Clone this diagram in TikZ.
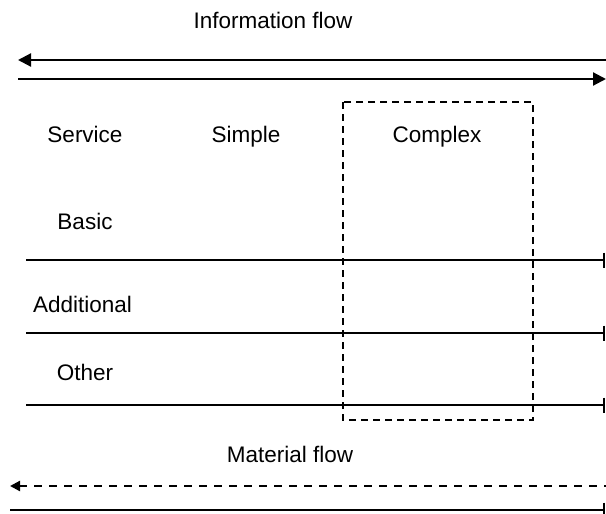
\documentclass[tikz,border=0pt]{standalone}
\usepackage{fontspec}
\setmainfont{Liberation Sans}
\usepackage{tikz}
\usetikzlibrary{arrows.meta}

\tikzset{
    txt/.style={anchor=base, inner sep=0pt, font=\fontsize{11.25}{13}\selectfont},
    flow/.style={line width=1.1pt},
    level/.style={line width=1.1pt, -{Bar[width=7.5pt,line width=1.1pt]}},
    head/.tip={Triangle[length=6.5pt,width=6.5pt]}
}

\begin{document}
\begin{tikzpicture}[x=0.5pt,y=-0.5pt]
        \useasboundingbox (0,0) rectangle (606,514);
        % Information flow
        \node[txt] (info) at (273,28) {Information flow};
        \coordinate (infoAL) at (18,60);
        \coordinate (infoAR) at (606,60);
        \coordinate (infoBL) at (18,79);
        \coordinate (infoBR) at (606,79);
        \draw[flow,head-] (infoAL) -- (infoAR);
        \draw[flow,-head] (infoBL) -- (infoBR);
        % Headings
        \node[txt] (service) at (85,142) {Service};
        \node[txt] (simple) at (246,142) {Simple};
        \node[txt] (complex) at (437,142) {Complex};
        % Service levels
        \node[txt] (basic) at (85,229) {Basic};
        \node[txt] (additional) at (82.5,312) {Additional};
        \node[txt] (other) at (85,380) {Other};
        \foreach \name/\y in {basic/260,additional/333,other/405}{
            \coordinate (\name L) at (26,\y);
            \coordinate (\name R) at (605,\y);
            \draw[level] (\name L) -- (\name R);
        }
        % Complex region
        \draw[line width=0.6pt, dash pattern=on 3.5pt off 2.5pt] (343,102) rectangle (533,420);
        % Material flow
        \node[txt] (material) at (290,462) {Material flow};
        \coordinate (matAL) at (10,486);
        \coordinate (matAR) at (606,486);
        \coordinate (matBL) at (10,510);
        \coordinate (matBR) at (605,510);
        \draw[flow,dash pattern=on 4pt off 3.5pt,{Triangle[length=5pt,width=5pt]}-] (matAL) -- (matAR);
        \draw[level] (matBL) -- (matBR);
\end{tikzpicture}
\end{document}
